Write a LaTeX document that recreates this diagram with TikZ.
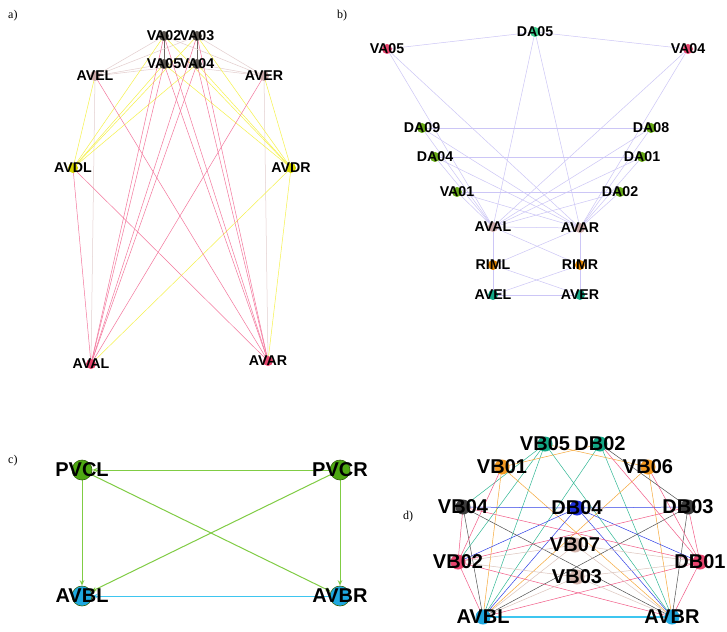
\documentclass[tikz,border=0pt]{standalone}
\usepackage{fontspec}
\setmainfont{Liberation Serif}
\newfontfamily\lblfont{Liberation Sans}
\usetikzlibrary{arrows.meta,backgrounds}

% node fills
\definecolor{vaGray}{HTML}{5A5550}
\definecolor{pinkGray}{HTML}{CBA9A9}
\definecolor{yel}{HTML}{D6D600}
\definecolor{rose}{HTML}{E8456E}
\definecolor{mint}{HTML}{3CCF8E}
\definecolor{leaf}{HTML}{67A816}
\definecolor{amber}{HTML}{E08400}
\definecolor{teal}{HTML}{12A886}
\definecolor{grassFill}{HTML}{4EA812}
\definecolor{grassLine}{HTML}{33600C}
\definecolor{sky}{HTML}{1EA8E0}
\definecolor{orng}{HTML}{F39A22}
\definecolor{royal}{HTML}{2030DD}
\definecolor{ink}{HTML}{3C3C3C}
\definecolor{tan}{HTML}{D4B6AE}
% edge colours
\definecolor{eDark}{HTML}{6B6560}
\definecolor{eLight}{HTML}{E3CECE}
\definecolor{eYel}{HTML}{F6F24A}
\definecolor{ePink}{HTML}{F4769C}
\definecolor{eLav}{HTML}{CCC6F6}
\definecolor{eGrass}{HTML}{80CC44}
\definecolor{eCyan}{HTML}{3EC6F0}
\definecolor{eTeal}{HTML}{30B894}
\definecolor{eOrng}{HTML}{F6A83A}
\definecolor{eBlue}{HTML}{3040E6}
\definecolor{eInk}{HTML}{505050}
\definecolor{ePinkD}{HTML}{F25A86}
\definecolor{eTan}{HTML}{DCC4BC}

\pgfdeclarelayer{paper}
\pgfsetlayers{paper,background,main}

\tikzset{
  smallfont/.style={font=\lblfont\bfseries\fontsize{14.2}{14.2}\selectfont},
  bigfont/.style={font=\lblfont\bfseries\fontsize{20}{20}\selectfont},
  dotA/.style={circle,inner sep=0pt,minimum size=10pt,fill=#1},
  dotC/.style={circle,inner sep=0pt,minimum size=20pt,fill=#1,draw=grassLine,line width=0.6pt},
  dotD/.style={circle,inner sep=0pt,minimum size=15pt,fill=#1},
  nA/.style 2 args={dotA=#1,label={[smallfont,inner sep=0pt]center:#2}},
  nC/.style 2 args={dotC=#1,label={[bigfont,inner sep=0pt]center:#2}},
  nD/.style 2 args={dotD=#1,label={[bigfont,inner sep=0pt]center:#2}},
  thin edge/.style={line width=0.5pt,draw=#1},
  panel/.style={font=\fontsize{12}{12}\selectfont,anchor=base west,inner sep=0pt},
}

\begin{document}
\begin{tikzpicture}[x=1pt,y=-1pt]
\useasboundingbox (0,0) rectangle (727,631);
\begin{pgfonlayer}{paper}
\fill[white] (0,0) rectangle (727,631);
\end{pgfonlayer}

% ---------- panel labels ----------
\node[panel] (la) at (8,19) {a)};
\node[panel] (lb) at (337,19) {b)};
\node[panel] (lc) at (8,463) {c)};
\node[panel] (ld) at (403,519) {d)};

% ---------- panel a ----------
\node[nA={vaGray}{VA02}] (a02) at (164,36) {};
\node[nA={vaGray}{VA03}] (a03) at (197,36) {};
\node[nA={vaGray}{VA05}] (a05) at (164,64) {};
\node[nA={vaGray}{VA04}] (a04) at (197,64) {};
\node[nA={pinkGray}{AVEL}] (aEL) at (95,76) {};
\node[nA={pinkGray}{AVER}] (aER) at (264,76) {};
\node[nA={yel}{AVDL}] (aDL) at (73,168) {};
\node[nA={yel}{AVDR}] (aDR) at (291,168) {};
\node[nA={rose}{AVAL}] (aAL) at (91,364) {};
\node[nA={rose}{AVAR}] (aAR) at (268,361) {};

% ---------- panel b ----------
\node[nA={mint}{DA05}] (bD05) at (535,32) {};
\node[nA={rose}{VA05}] (bV05) at (387,49) {};
\node[nA={rose}{VA04}] (bV04) at (688,49) {};
\node[nA={leaf}{DA09}] (bD09) at (422,128) {};
\node[nA={leaf}{DA08}] (bD08) at (651,128) {};
\node[nA={leaf}{DA04}] (bD04) at (435,157) {};
\node[nA={leaf}{DA01}] (bD01) at (642,157) {};
\node[nA={leaf}{VA01}] (bV01) at (457,192) {};
\node[nA={leaf}{DA02}] (bD02) at (620,192) {};
\node[nA={pinkGray}{AVAL}] (bAL) at (493,227) {};
\node[nA={pinkGray}{AVAR}] (bAR) at (580,228) {};
\node[nA={amber}{RIML}] (bRL) at (493,265) {};
\node[nA={amber}{RIMR}] (bRR) at (580,265) {};
\node[nA={teal}{AVEL}] (bEL) at (493,295) {};
\node[nA={teal}{AVER}] (bER) at (580,295) {};

% ---------- panel c ----------
\node[nC={grassFill}{PVCL}] (cPL) at (82,470) {};
\node[nC={grassFill}{PVCR}] (cPR) at (340,470) {};
\node[nC={sky}{AVBL}] (cBL) at (82,596) {};
\node[nC={sky}{AVBR}] (cBR) at (340,596) {};

% ---------- panel d ----------
\node[nD={teal}{VB05}] (dV05) at (545,444) {};
\node[nD={teal}{DB02}] (dD02) at (600,444) {};
\node[nD={orng}{VB01}] (dV01) at (502,467) {};
\node[nD={orng}{VB06}] (dV06) at (648,467) {};
\node[nD={ink}{VB04}] (dV04) at (463,507) {};
\node[nD={royal}{DB04}] (dD04) at (577,508) {};
\node[nD={ink}{DB03}] (dD03) at (688,507) {};
\node[nD={tan}{VB07}] (dV07) at (575,545) {};
\node[nD={rose}{VB02}] (dV02) at (458,562) {};
\node[nD={rose}{DB01}] (dD01) at (700,562) {};
\node[nD={tan}{VB03}] (dV03) at (577,577) {};
\node[nD={sky}{AVBL}] (dBL) at (483,617) {};
\node[nD={sky}{AVBR}] (dBR) at (672,617) {};

\begin{pgfonlayer}{background}
% panel a edges
\foreach \s/\t in {a02/a05,a03/a04}
  \draw[thin edge=eDark,line width=0.7pt] (\s.center) -- (\t.center);
\foreach \s/\t in {aEL/a02,aEL/a03,aEL/a05,aEL/a04,aER/a02,aER/a03,aER/a05,aER/a04,aEL/aAL,aER/aAR}
  \draw[thin edge=eLight] (\s.center) -- (\t.center);
\foreach \s/\t in {aDL/a02,aDL/a03,aDL/a05,aDL/a04,aDL/aEL,aDR/a02,aDR/a03,aDR/a05,aDR/a04,aDR/aER,aDR/aAL,aDR/aAR}
  \draw[thin edge=eYel] (\s.center) -- (\t.center);
\foreach \s/\t in {aAL/a02,aAL/a03,aAL/a05,aAL/a04,aAR/a02,aAR/a03,aAR/a05,aAR/a04,aAL/aDL,aAR/aDL,aAR/aEL,aAL/aER}
  \draw[thin edge=ePink] (\s.center) -- (\t.center);

% panel b edges
\foreach \s/\t in {bD05/bV05,bD05/bV04,bD05/bAL,bD05/bAR,bV05/bAL,bV05/bAR,bV04/bAL,bV04/bAR,
    bD09/bD08,bD04/bD01,bV01/bD02,bD09/bAL,bD09/bAR,bD08/bAL,bD08/bAR,bD04/bAL,bD04/bAR,
    bD01/bAL,bD01/bAR,bV01/bAL,bV01/bAR,bD02/bAL,bD02/bAR,bAL/bAR,bAL/bRL,bAR/bRR,
    bRL/bEL,bRR/bER,bAL/bRR,bAR/bRL,bRL/bER,bRR/bEL,bEL/bER}
  \draw[thin edge=eLav] (\s.center) -- (\t.center);

% panel d edges
\foreach \s/\t in {dV05/dBL,dV05/dBR,dD02/dBL,dD02/dBR,dV05/dV04,dV05/dV02}
  \draw[thin edge=eTeal] (\s.center) -- (\t.center);
\foreach \s/\t in {dV01/dD02,dV05/dV06,dV01/dBL,dV01/dBR,dV06/dBL,dV06/dBR}
  \draw[thin edge=eOrng] (\s.center) -- (\t.center);
\foreach \s/\t in {dD04/dV04,dD04/dD03,dD04/dV02,dD04/dD01,dD04/dBL,dD04/dBR}
  \draw[thin edge=eBlue] (\s.center) -- (\t.center);
\foreach \s/\t in {dV04/dBL,dD03/dBR,dV04/dBR,dD03/dBL,dD02/dD03}
  \draw[thin edge=eInk] (\s.center) -- (\t.center);
\foreach \s/\t in {dV02/dV01,dV02/dD03,dV02/dBL,dV02/dBR,dD01/dV04,dD01/dBL,dD01/dBR,dD01/dV06,dD01/dD02,dV02/dV04,dD01/dD03}
  \draw[thin edge=ePinkD] (\s.center) -- (\t.center);
\foreach \s/\t in {dV07/dV02,dV07/dD01,dV03/dV02,dV03/dD01,dV07/dBL,dV07/dBR,dV03/dBL,dV03/dBR}
  \draw[thin edge=eTan] (\s.center) -- (\t.center);
\draw[thin edge=eCyan,line width=1.1pt] (dBL.center) -- (dBR.center);

% panel c edges (arrows end at the circle rims)
\begin{scope}[>={Stealth[length=5.5pt,width=4.5pt]},line width=1pt]
\draw[eGrass,->] (cPR) -- (cPL);
\draw[eGrass,->] (cPL) -- (cBL);
\draw[eGrass,->] (cPR) -- (cBR);
\draw[eGrass,->] (cPL) -- (cBR);
\draw[eGrass,->] (cPR) -- (cBL);
\draw[eCyan,->] (cBR) -- (cBL);
\end{scope}
\end{pgfonlayer}
\end{tikzpicture}
\end{document}
